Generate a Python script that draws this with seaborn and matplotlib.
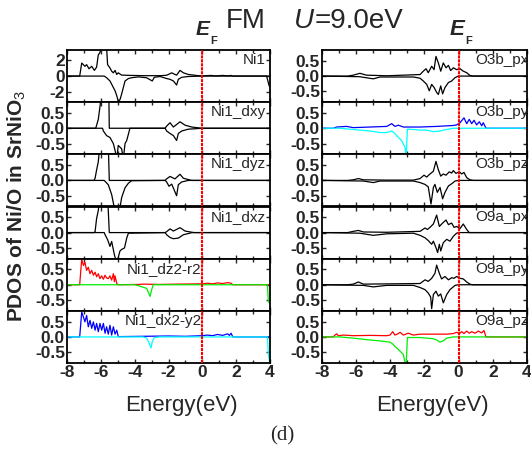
import matplotlib
matplotlib.use("Agg")
import matplotlib.pyplot as plt
import seaborn as sns

# energy (eV), PDOS pairs; up = spin up, dn = spin down
ni1_up = [(-8, 0), (-7.25, 0), (-7.13, 1.6), (-6.94, 1.2), (-6.84, 1.4), (-6.70, 0.9), (-6.54, 1.2),
          (-6.38, 0.7), (-6.25, 1.1), (-6.15, 2.6), (-6.05, 2.9), (-5.99, 3.5), (-5.66, 3.5), (-5.60, 1.4),
          (-5.46, 1.0), (-5.36, 0.6), (-5.26, 0.4), (-5.16, 0.7), (-5.06, 0.2), (-4.97, 0.4), (-4.77, 0.12),
          (-4.18, 0.08), (-3.5, 0.05), (-2.5, 0.05), (-2.11, 0.1), (-1.81, 0.4), (-1.62, 0.2), (-1.52, 0.12),
          (-1.32, 0.7), (-1.12, 0.4), (-0.83, 0.2), (-0.24, 0.05), (0, 0.02), (0.5, 0.08), (0.8, 0.02),
          (1.2, 0.08), (1.5, 0.03), (1.7, 0.08), (1.8, 0), (4, 0)]
ni1_dn = [(-8, 0), (-5.8, 0), (-5.66, -0.2), (-5.46, -0.6), (-5.36, -1.0), (-5.16, -1.8), (-5.06, -2.4),
          (-4.97, -3.1), (-4.87, -2.9), (-4.77, -2.2), (-4.67, -1.4), (-4.57, -0.6), (-4.37, -0.3),
          (-4.18, -0.2), (-3.78, -0.1), (-3.3, -0.2), (-2.96, -0.6), (-2.84, -0.15), (-2.5, -0.05),
          (-2.11, -0.3), (-1.91, -0.4), (-1.71, -0.6), (-1.52, -1.1), (-1.42, -0.4), (-1.22, -0.15),
          (-0.83, -0.05), (0, 0), (3.8, 0), (3.9, -0.8), (3.95, -1.2), (4, -1.2)]

dxy_up = [(-8, 0), (-6.3, 0), (-6.15, 0.29), (-6.05, 0.71), (-5.95, 1.2), (-5.53, 1.2), (-5.5, 0),
          (-2.2, 0), (-2.11, 0.07), (-1.91, 0.18), (-1.71, 0.04), (-1.32, 0.21), (-1.02, 0.1),
          (-0.63, 0.04), (-0.04, 0), (4, 0)]
dxy_dn = [(-8, 0), (-5.9, 0), (-5.85, -0.09), (-5.66, -0.24), (-5.46, -0.3), (-5.26, -0.5), (-5.16, -0.72),
          (-5.06, -1.0), (-4.97, -0.56), (-4.77, -0.67), (-4.67, -1.0), (-4.57, -0.5), (-4.47, -0.4),
          (-4.37, -0.19), (-4.28, 0), (-2.2, 0), (-2.11, -0.09), (-1.91, -0.17), (-1.71, -0.24),
          (-1.52, -0.4), (-1.42, -0.17), (-1.22, -0.09), (-0.83, -0.03), (0, 0), (4, 0)]

dyz_up = [(-8, 0), (-6.4, 0), (-6.34, 0.07), (-6.25, 0.34), (-6.15, 0.61), (-6.05, 1.2), (-5.56, 1.2),
          (-5.5, 0), (-2.2, 0), (-2.11, 0.05), (-1.91, 0.13), (-1.62, 0.05), (-1.32, 0.2), (-1.12, 0.07),
          (-0.63, 0), (4, 0)]
dyz_dn = [(-8, 0), (-5.8, 0), (-5.75, -0.03), (-5.56, -0.14), (-5.36, -0.46), (-5.2, -0.9), (-4.87, -0.9),
          (-4.77, -0.56), (-4.57, -0.24), (-4.37, -0.09), (-4.18, -0.01), (-2.2, 0), (-2.11, -0.05),
          (-1.97, -0.19), (-1.81, -0.12), (-1.52, -0.5), (-1.42, -0.14), (-1.22, -0.05), (-0.83, 0), (4, 0)]

dxz_up = [(-8, 0), (-6.4, 0), (-6.34, 0.03), (-6.25, 0.46), (-6.15, 0.72), (-6.05, 1.2), (-5.6, 1.2),
          (-5.5, 0), (-2.2, 0), (-2.11, 0.03), (-1.91, 0.12), (-1.71, 0.05), (-1.32, 0.16), (-1.02, 0.05),
          (-0.5, 0), (4, 0)]
dxz_dn = [(-8, 0), (-5.8, 0), (-5.75, -0.07), (-5.6, -0.23), (-5.46, -0.45), (-5.36, -0.29), (-5.2, -0.72),
          (-5.06, -1.0), (-4.87, -0.6), (-4.77, -0.55), (-4.6, -0.5), (-4.47, -0.18), (-4.37, -0.02),
          (-2.2, 0), (-2.11, -0.07), (-1.91, -0.16), (-1.71, -0.2), (-1.42, -0.18), (-1.12, -0.07),
          (-0.6, 0), (4, 0)]

dz2_up = [(-8, 0), (-7.25, 0), (-7.13, 0.84), (-7.03, 0.63), (-6.94, 0.73), (-6.84, 0.47), (-6.74, 0.57),
          (-6.64, 0.36), (-6.54, 0.47), (-6.44, 0.31), (-6.34, 0.41), (-6.25, 0.26), (-6.15, 0.36),
          (-6.05, 0.2), (-5.95, 0.29), (-5.85, 0.18), (-5.75, 0.31), (-5.66, 0.22), (-5.56, 0.2),
          (-5.46, 0.29), (-5.36, 0.15), (-5.26, 0.36), (-5.2, 0.1), (-5.16, 0.29), (-5.06, 0.04),
          (-4.97, 0), (-3.8, 0.01), (-3.5, 0.02), (-2.5, 0.01), (-1.5, 0.02), (0, 0.03), (0.3, 0.05),
          (0.6, 0.03), (0.9, 0.06), (1.2, 0.04), (1.5, 0.07), (1.7, 0.05), (1.8, 0), (4, 0)]
dz2_dn = [(-8, 0), (-4.0, 0), (-3.78, -0.03), (-3.29, -0.12), (-3.09, -0.38), (-3.0, -0.17), (-2.9, 0),
          (3.85, 0), (3.9, -0.55), (4, -0.6)]

dx2_up = [(-8, 0), (-7.25, 0), (-7.13, 0.81), (-7.03, 0.65), (-6.94, 0.49), (-6.84, 0.7), (-6.74, 0.33),
          (-6.64, 0.54), (-6.54, 0.28), (-6.44, 0.49), (-6.34, 0.22), (-6.25, 0.44), (-6.15, 0.17),
          (-6.05, 0.44), (-5.95, 0.22), (-5.85, 0.44), (-5.75, 0.12), (-5.66, 0.33), (-5.56, 0.09),
          (-5.46, 0.38), (-5.36, 0.06), (-5.26, 0.33), (-5.16, 0.09), (-5.06, 0.22), (-4.97, 0.01),
          (-3.5, 0.02), (-2.0, 0.03), (-1.0, 0.02), (0, 0.04), (0.3, 0.06), (0.6, 0.04), (0.9, 0.08),
          (1.2, 0.05), (1.5, 0.1), (1.6, 0.05), (1.7, 0.12), (1.8, 0), (4, 0)]
dx2_dn = [(-8, 0), (-3.5, 0), (-3.29, -0.04), (-3.19, -0.15), (-3.03, -0.36), (-2.96, -0.15),
          (-2.84, -0.02), (-2.5, 0), (3.85, 0), (3.9, -0.57), (4, -0.9)]

o3b_px_up = [(-8, 0), (-6.5, 0), (-6.17, 0.03), (-5.78, 0.09), (-5.39, 0.03), (-4.21, 0.01), (-3.24, 0.03),
             (-2.26, 0.05), (-2.07, 0.16), (-1.91, 0.24), (-1.78, 0.11), (-1.58, 0.32), (-1.44, 0.21),
             (-1.33, 0.64), (-1.19, 0.43), (-1.05, 0.16), (-0.90, 0.43), (-0.74, 0.27), (-0.60, 0.35),
             (-0.47, 0.18), (-0.31, 0.27), (-0.12, 0.21), (0.08, 0.24), (0.27, 0.16), (0.47, 0.11),
             (0.66, 0.02), (0.86, 0), (4, 0)]
o3b_px_dn = [(-8, 0), (-5.8, -0.02), (-5.0, -0.09), (-4.6, -0.03), (-2.65, -0.03), (-2.26, -0.07),
             (-2.07, -0.16), (-1.87, -0.27), (-1.72, -0.48), (-1.58, -0.27), (-1.44, -0.37), (-1.29, -0.53),
             (-1.19, -0.6), (-1.05, -0.32), (-0.94, -0.58), (-0.80, -0.37), (-0.60, -0.21), (-0.41, -0.16),
             (-0.21, -0.05), (-0.02, 0), (4, 0)]

o3b_py_up = [(-8, 0), (-7.34, 0), (-7.14, 0.04), (-6.56, 0.06), (-6.17, 0.02), (-5.19, 0.04), (-4.21, 0.06),
             (-3.92, 0.15), (-3.73, 0.06), (-3.53, 0.1), (-3.24, 0.04), (-2.26, 0.04), (-1.29, 0.06),
             (-0.31, 0.09), (-0.12, 0.11), (0.08, 0.18), (0.31, 0.34), (0.47, 0.15), (0.62, 0.29),
             (0.76, 0.15), (0.90, 0.26), (1.05, 0.11), (1.21, 0.21), (1.35, 0.08), (1.44, 0.18), (1.6, 0),
             (4, 0)]
o3b_py_dn = [(-8, 0), (-6.95, 0), (-6.17, -0.04), (-5.19, -0.09), (-4.60, -0.14), (-4.21, -0.14),
             (-3.92, -0.09), (-3.73, -0.17), (-3.53, -0.30), (-3.34, -0.40), (-3.14, -0.62), (-3.08, -1.0),
             (-3.0, -0.03), (-2.65, -0.04), (-2.26, -0.06), (-1.87, -0.06), (-1.48, -0.11), (-1.09, -0.09),
             (-0.70, -0.04), (-0.31, 0), (4, 0)]

o3b_pz_up = [(-8, 0), (-6.5, 0), (-6.17, 0.02), (-5.87, 0.06), (-5.58, 0.02), (-4.21, 0.01), (-2.65, 0.01),
             (-2.26, 0.06), (-2.03, 0.17), (-1.87, 0.11), (-1.72, 0.19), (-1.48, 0.3), (-1.33, 0.62),
             (-1.19, 0.35), (-1.05, 0.14), (-0.90, 0.21), (-0.74, 0.17), (-0.55, 0.28), (-0.41, 0.24),
             (-0.31, 0.32), (-0.16, 0.23), (0.04, 0.28), (0.18, 0.21), (0.31, 0.26), (0.47, 0.09),
             (0.66, 0.02), (0.86, 0), (4, 0)]
o3b_pz_dn = [(-8, 0), (-5.58, -0.02), (-5.0, -0.07), (-4.6, -0.02), (-2.65, -0.02), (-2.26, -0.07),
             (-1.97, -0.13), (-1.78, -0.21), (-1.62, -0.77), (-1.48, -0.23), (-1.39, -0.13), (-1.25, -0.39),
             (-1.09, -0.23), (-0.94, -0.6), (-0.80, -0.39), (-0.60, -0.18), (-0.41, -0.11), (-0.21, -0.02),
             (0, 0), (4, 0)]

o9a_px_up = [(-8, 0), (-6.5, 0), (-6.17, 0.04), (-5.87, 0.07), (-5.58, 0.02), (-4.21, 0.01), (-2.26, 0.04),
             (-1.97, 0.15), (-1.83, 0.1), (-1.68, 0.17), (-1.48, 0.28), (-1.29, 0.57), (-1.13, 0.2),
             (-0.94, 0.31), (-0.74, 0.41), (-0.60, 0.26), (-0.41, 0.31), (-0.27, 0.17), (-0.12, 0.2),
             (0.08, 0.13), (0.27, 0.28), (0.47, 0.1), (0.62, 0), (4, 0)]
o9a_px_dn = [(-8, 0), (-5.78, -0.02), (-5.0, -0.09), (-4.21, -0.04), (-2.65, -0.02), (-2.26, -0.09),
             (-1.97, -0.17), (-1.78, -0.26), (-1.58, -0.38), (-1.48, -0.28), (-1.33, -0.49), (-1.23, -0.65),
             (-1.13, -0.38), (-1.05, -0.6), (-0.90, -0.33), (-0.70, -0.22), (-0.51, -0.28), (-0.31, -0.12),
             (-0.12, -0.02), (0, 0), (4, 0)]

o9a_py_up = [(-8, 0), (-6.5, 0), (-6.17, 0.02), (-5.87, 0.09), (-5.58, 0.02), (-2.26, 0.04), (-1.97, 0.16),
             (-1.78, 0.11), (-1.58, 0.21), (-1.39, 0.37), (-1.29, 0.64), (-1.13, 0.37), (-1.0, 0.19),
             (-0.80, 0.27), (-0.60, 0.16), (-0.41, 0.23), (-0.27, 0.21), (-0.12, 0.27), (0.08, 0.21),
             (0.27, 0.19), (0.47, 0.09), (0.66, 0.02), (0.8, 0), (4, 0)]
o9a_py_dn = [(-8, 0), (-5.58, -0.02), (-5.0, -0.07), (-4.21, -0.02), (-2.65, -0.02), (-2.26, -0.09),
             (-1.97, -0.16), (-1.78, -0.27), (-1.64, -0.4), (-1.58, -0.78), (-1.48, -0.32), (-1.33, -0.21),
             (-1.19, -0.37), (-1.05, -0.3), (-0.90, -0.59), (-0.70, -0.32), (-0.51, -0.16), (-0.21, -0.02),
             (0, 0), (4, 0)]

o9a_pz_up = [(-8, 0), (-7.34, 0), (-7.24, 0.06), (-7.14, 0.1), (-7.04, 0.04), (-6.75, 0.06), (-6.17, 0.04),
             (-5.19, 0.05), (-4.21, 0.04), (-4.02, 0.06), (-3.86, 0.17), (-3.73, 0.06), (-3.59, 0.09),
             (-3.43, 0.15), (-3.24, 0.06), (-2.95, 0.12), (-2.65, 0.06), (-2.26, 0.09), (-1.48, 0.09),
             (-0.70, 0.09), (-0.31, 0.11), (-0.12, 0.15), (0.04, 0.11), (0.18, 0.17), (0.31, 0.11),
             (0.47, 0.19), (0.62, 0.12), (0.76, 0.17), (0.96, 0.12), (1.15, 0.19), (1.35, 0.13),
             (1.48, 0.21), (1.6, 0), (4, 0)]
o9a_pz_dn = [(-8, 0), (-6.95, 0), (-6.17, -0.04), (-5.19, -0.1), (-4.60, -0.13), (-4.02, -0.17),
             (-3.86, -0.23), (-3.73, -0.31), (-3.53, -0.41), (-3.24, -0.57), (-3.08, -1.0), (-3.0, -0.02),
             (-2.26, -0.02), (-1.48, -0.06), (-1.29, -0.1), (-1.09, -0.17), (-0.90, -0.13), (-0.70, -0.04),
             (-0.31, 0), (4, 0)]

left_names = ["Ni1", "Ni1_dxy", "Ni1_dyz", "Ni1_dxz", "Ni1_dz2-r2", "Ni1_dx2-y2"]
right_names = ["O3b_px", "O3b_py", "O3b_pz", "O9a_px", "O9a_py", "O9a_pz"]
left_data = [(ni1_up, ni1_dn), (dxy_up, dxy_dn), (dyz_up, dyz_dn), (dxz_up, dxz_dn),
             (dz2_up, dz2_dn), (dx2_up, dx2_dn)]
right_data = [(o3b_px_up, o3b_px_dn), (o3b_py_up, o3b_py_dn), (o3b_pz_up, o3b_pz_dn),
              (o9a_px_up, o9a_px_dn), (o9a_py_up, o9a_py_dn), (o9a_pz_up, o9a_pz_dn)]
left_colors = [("black", "black")] * 4 + [("red", "#00ee00"), ("blue", "cyan")]
right_colors = [("black", "black"), ("blue", "cyan"), ("black", "black"),
                ("black", "black"), ("black", "black"), ("red", "#00ee00")]

sns.set_theme(style="ticks")
plt.rcParams["font.family"] = ["Liberation Sans", "DejaVu Sans"]
plt.rcParams["axes.unicode_minus"] = False
plt.rcParams["mathtext.fontset"] = "custom"
plt.rcParams["mathtext.rm"] = "Liberation Sans"
plt.rcParams["mathtext.bf"] = "Liberation Sans:bold"

W, H = 531, 454
fig = plt.figure(figsize=(5.31, 4.54), dpi=100)

top_px, bot_px = 50, 363
row_h = (bot_px - top_px) / 6
cols = [(67, 270, left_names, left_data, left_colors),
        (322, 527, right_names, right_data, right_colors)]


def draw_curve(ax, pts, color):
    sns.lineplot(x=[p[0] for p in pts], y=[p[1] for p in pts], ax=ax, color=color,
                 linewidth=0.9, estimator=None, sort=False, legend=False)


for ci, (x0, x1, names, data, colors) in enumerate(cols):
    for r in range(6):
        y_top = top_px + r * row_h
        ax = fig.add_axes([x0 / W, 1 - (y_top + row_h) / H, (x1 - x0) / W, row_h / H])
        up, dn = data[r]
        # spin up first, spin down on top (its zero line runs over the full range)
        draw_curve(ax, up, colors[r][0])
        draw_curve(ax, dn, colors[r][1])
        ax.axvline(0, color="red", lw=1.5, ls=(0, (1.5, 0.4)), zorder=5)
        ax.set_xlim(-8, 4)
        if ci == 0 and r == 0:
            ax.set_ylim(-3.2, 3.2)
            ax.set_yticks([-2, 0, 2])
            ax.set_yticklabels(["-2", "0", "2"])
        else:
            ax.set_ylim(-0.85, 0.85)
            ax.set_yticks([-0.5, 0, 0.5])
            ax.set_yticklabels(["-0.5", "0.0", "0.5"])
        ax.set_xticks([-8, -6, -4, -2, 0, 2, 4])
        ax.set_xticks(range(-8, 5), minor=True)
        ax.tick_params(which="both", direction="in", top=True, right=True, length=3, width=1,
                       labelsize=12.5, pad=1.5)
        ax.tick_params(which="minor", length=2)
        for lab in ax.get_yticklabels():
            lab.set_fontweight("bold")
        if r == 5:
            ax.set_xticklabels(["-8", "-6", "-4", "-2", "0", "2", "4"])
            for lab in ax.get_xticklabels():
                lab.set_fontweight("bold")
        else:
            ax.set_xticklabels([])
        ax.set_xlabel("")
        ax.set_ylabel("")
        for sp in ax.spines.values():
            sp.set_linewidth(1.3)
            sp.set_color("black")
        # panel label
        if ci == 0:
            if r < 4:
                ax.text(3.75, 0.94, names[r], transform=ax.get_xaxis_transform(),
                        ha="right", va="top", fontsize=11)
            else:
                ax.text(-0.05, 0.94, names[r], transform=ax.get_xaxis_transform(),
                        ha="right", va="top", fontsize=11)
        else:
            ax.text(0.95, 0.94, names[r], transform=ax.get_xaxis_transform(),
                    ha="left", va="top", fontsize=11, clip_on=True)

# title pieces
fig.text(196 / W, 1 - 35 / H, "E", fontsize=15, fontweight="bold", fontstyle="italic", va="baseline")
fig.text(210 / W, 1 - 44 / H, "F", fontsize=8, fontweight="bold", va="baseline")
fig.text(226 / W, 1 - 28 / H, "FM", fontsize=20, va="baseline")
fig.text(294 / W, 1 - 28 / H, "U", fontsize=20, fontstyle="italic", va="baseline")
fig.text(315 / W, 1 - 28 / H, "=9.0eV", fontsize=20, va="baseline")
fig.text(450 / W, 1 - 35 / H, "E", fontsize=16, fontweight="bold", fontstyle="italic", va="baseline")
fig.text(465 / W, 1 - 44 / H, "F", fontsize=8, fontweight="bold", va="baseline")

fig.text(17 / W, 1 - 206 / H, r"PDOS of Ni/O in SrNiO$_3$", rotation=90, fontsize=15,
         fontweight="bold", ha="center", va="center")
fig.text(181 / W, 1 - 406 / H, "Energy(eV)", fontsize=16, ha="center", va="center")
fig.text(432 / W, 1 - 406 / H, "Energy(eV)", fontsize=16, ha="center", va="center")
fig.text(282 / W, 1 - 436 / H, "(d)", fontsize=15, family="Liberation Serif", ha="center", va="center")

fig.savefig("out.png", dpi=100)
